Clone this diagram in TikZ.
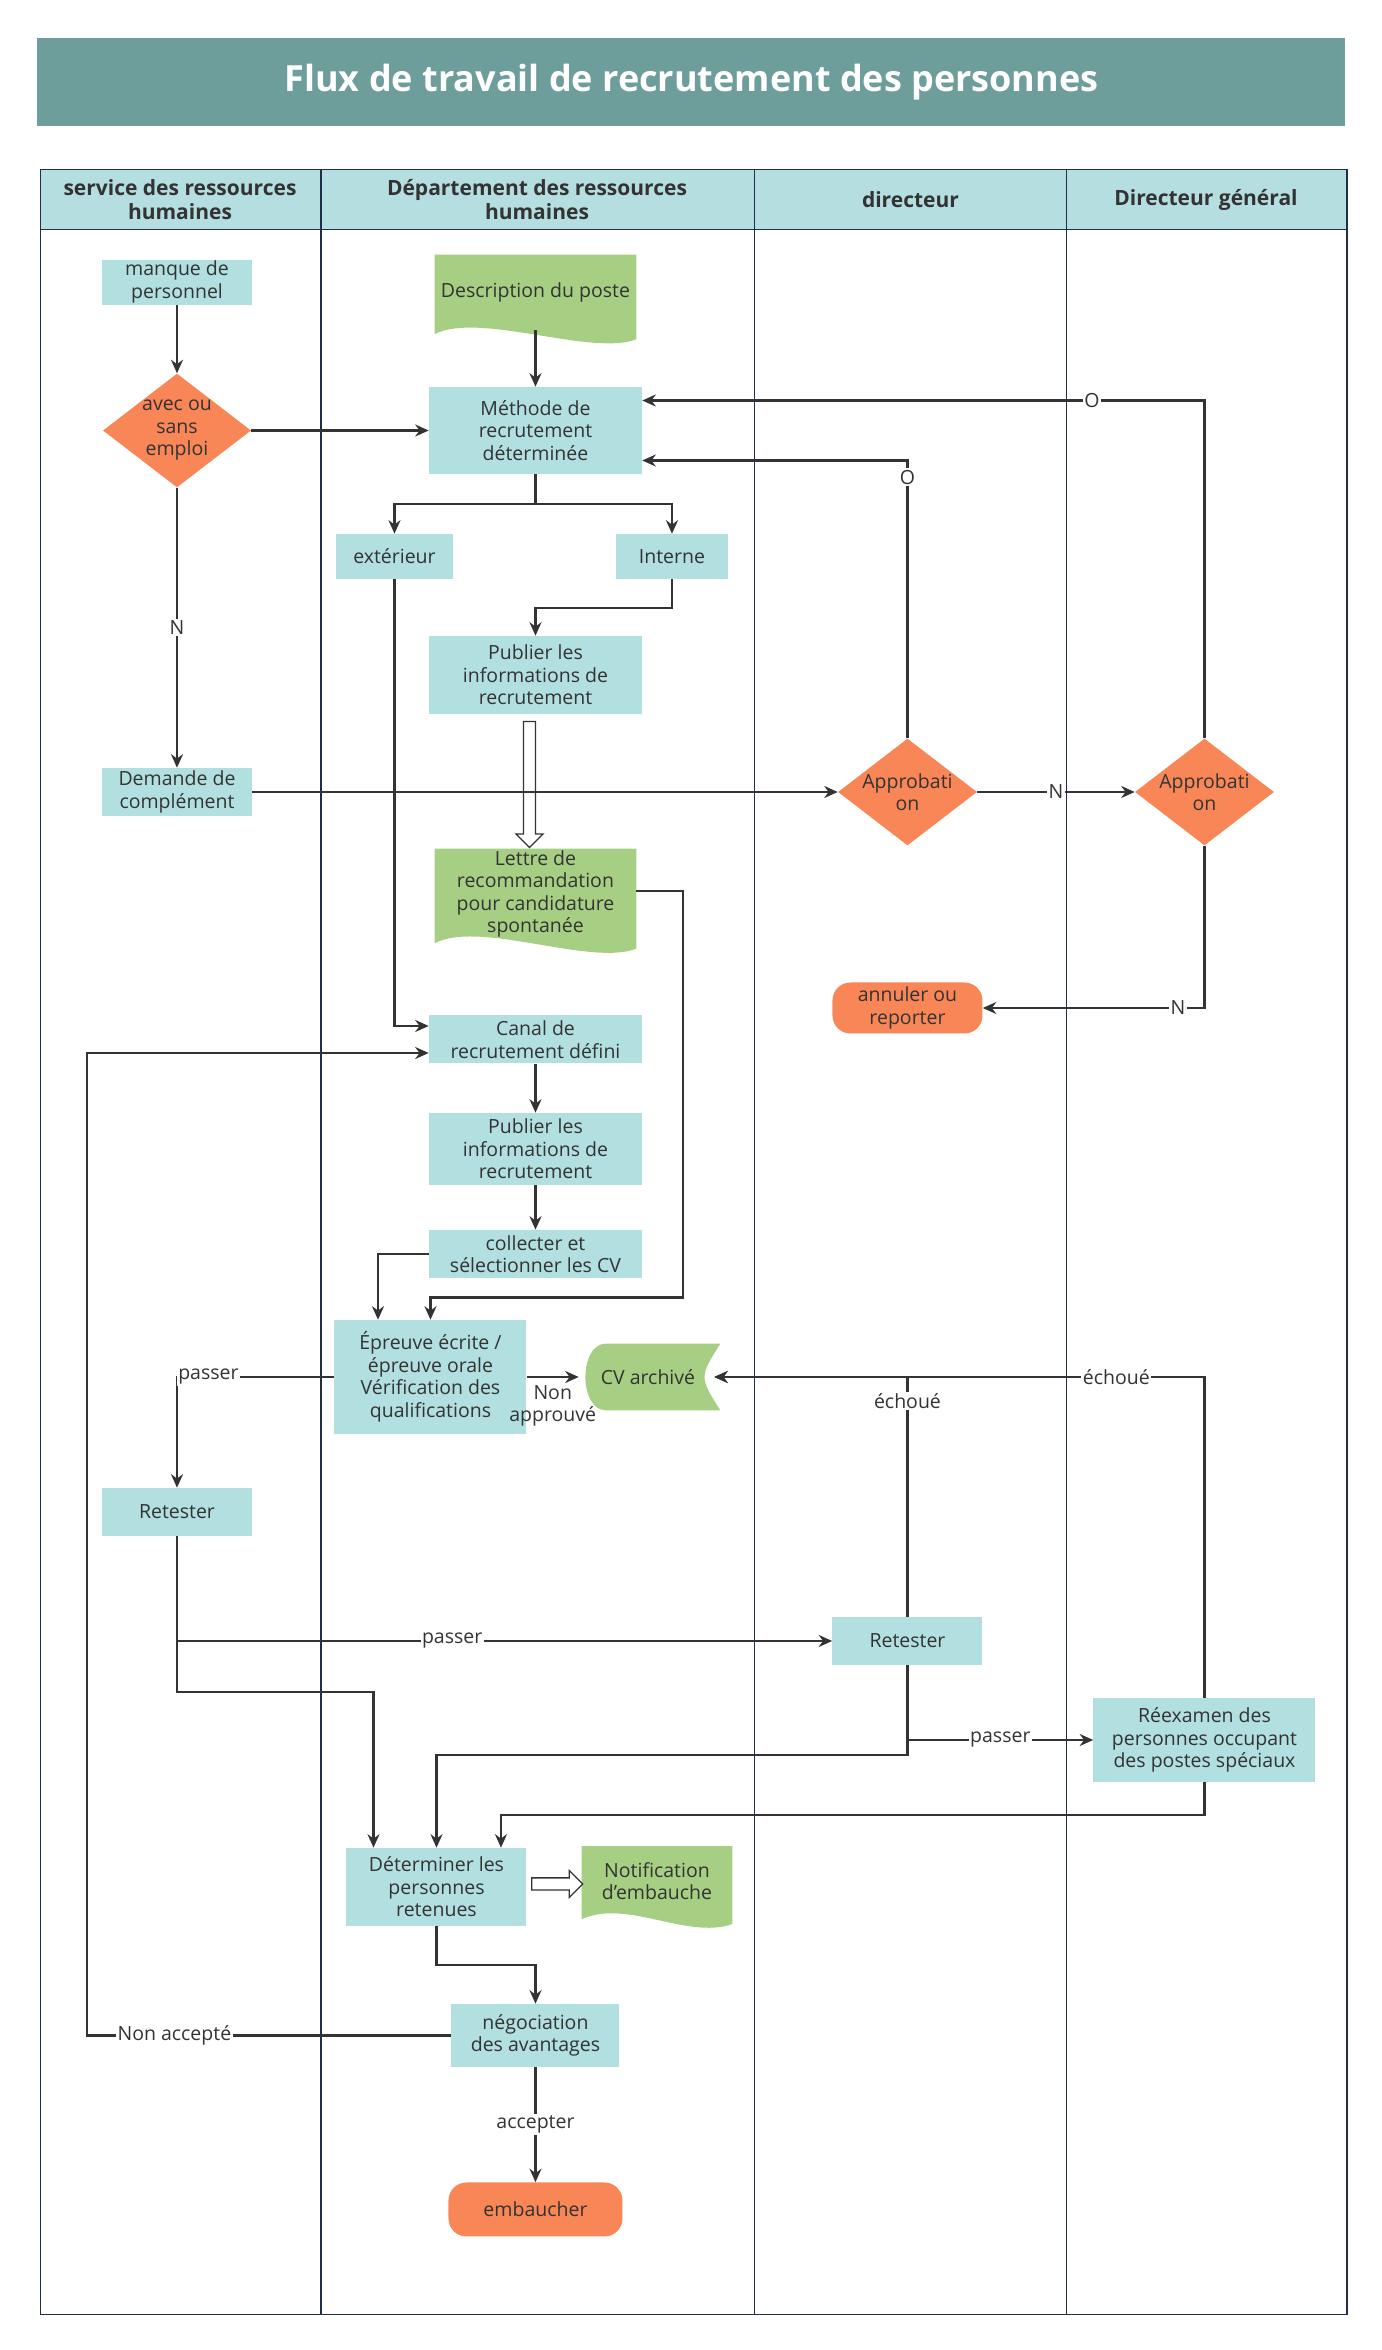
\documentclass[tikz,border=0pt]{standalone}
\usepackage{fontspec}
\setmainfont{Open Sans}
\usetikzlibrary{shapes.geometric,shapes.arrows,arrows.meta,backgrounds,calc}
\definecolor{titlebg}{HTML}{6E9E9B}
\definecolor{lanebg}{HTML}{B5DEE0}
\definecolor{procbg}{HTML}{B2DFE0}
\definecolor{decbg}{HTML}{F88656}
\definecolor{docbg}{HTML}{A7CF84}
\definecolor{linec}{HTML}{333333}
\definecolor{poolc}{HTML}{1F2F4A}

\begin{document}
\begin{tikzpicture}[x=1pt,y=-1pt,
  font=\fontsize{13}{15}\selectfont,
  every node/.style={text=linec,align=center,inner sep=1pt},
  proc/.style={rectangle,fill=procbg,minimum width=#1},
  dec/.style={diamond,fill=decbg,minimum width=88pt,minimum height=68pt,aspect=1.3,inner sep=0pt},
  term/.style={rectangle,rounded corners=12pt,fill=decbg,minimum width=#1,minimum height=34pt},
  doc/.style={rectangle,minimum width=134pt,minimum height=#1},
  flow/.style={draw=linec,line width=1.4pt,-{Stealth[length=9pt,width=8pt]}},
  lbl/.style={fill=white,inner sep=1pt},
  hollow/.style={single arrow,draw=linec,fill=white,line width=0.9pt,single arrow head extend=3pt,minimum height=#1,minimum width=18pt,inner sep=2pt}]

  \useasboundingbox (0,0) rectangle (921.3,1566.7);

  % title and swimlanes
  \node[fill=titlebg,minimum width=872pt,minimum height=59pt,text=white,font=\fontsize{24}{28}\bfseries\selectfont] (title) at (461,54.5) {Flux de travail de recrutement des personnes};
  \fill[lanebg] (27,113) rectangle (898,153);
  \draw[poolc,line width=1pt] (27,113) rectangle (898,1543);
  \draw[poolc,line width=0.8pt] (27,153) -- (898,153);
  \foreach \lx in {214,503,711}
    \draw[poolc,line width=1pt] (\lx,113) -- (\lx,1543);
  \begin{scope}[every node/.style={text=linec,align=center,font=\fontsize{14}{16}\bfseries\selectfont}]
    \node (laneA) at (120,133) {service des ressources\\humaines};
    \node (laneB) at (358,133) {Département des ressources\\humaines};
    \node (laneC) at (607,133) {directeur};
    \node (laneD) at (804,133) {Directeur général};
  \end{scope}

  % nodes
  \node[proc=100pt,minimum height=30pt] (manque) at (118,188) {manque de\\personnel};
  \node[dec] (emploi) at (118,287) {avec ou\\sans\\emploi};
  \node[proc=100pt,minimum height=32pt] (demande) at (118,528) {Demande de\\complément};
  \node[doc=50pt] (descr) at (357,195) {Description du poste};
  \node[proc=142pt,minimum height=58pt] (methode) at (357,287) {Méthode de\\recrutement\\déterminée};
  \node[proc=78pt,minimum height=30pt] (exter) at (263,371) {extérieur};
  \node[proc=75pt,minimum height=30pt] (interne) at (448,371) {Interne};
  \node[proc=142pt,minimum height=52pt] (publier) at (357,450) {Publier les\\informations de\\recrutement};
  \node[doc=52pt] (lettre) at (357,596) {Lettre de\\recommandation\\pour candidature\\spontanée};
  \node[proc=142pt,minimum height=32pt] (canal) at (357,693) {Canal de\\recrutement défini};
  \node[proc=142pt,minimum height=48pt] (publierb) at (357,766) {Publier les\\informations de\\recrutement};
  \node[proc=142pt,minimum height=32pt] (collect) at (357,836) {collecter et\\sélectionner les CV};
  \node[proc=128pt,minimum height=76pt] (epreuve) at (287,918) {Épreuve écrite /\\épreuve orale\\Vérification des\\qualifications};
  \node[minimum width=92pt,minimum height=44pt] (archive) at (432,918) {CV archivé};
  \node[proc=100pt,minimum height=32pt] (retestA) at (118,1008) {Retester};
  \node[dec] (approA) at (605,528) {Approbati\\on};
  \node[dec] (approB) at (803,528) {Approbati\\on};
  \node[term=100pt] (annuler) at (605,672) {annuler ou\\reporter};
  \node[proc=100pt,minimum height=32pt] (retestB) at (605,1094) {Retester};
  \node[proc=148pt,minimum height=56pt] (reexam) at (803,1160) {Réexamen des\\personnes occupant\\des postes spéciaux};
  \node[proc=120pt,minimum height=52pt] (determ) at (291,1258) {Déterminer les\\personnes\\retenues};
  \node[doc=46pt,minimum width=100pt] (notif) at (438,1254) {Notification\\d'embauche};
  \node[proc=112pt,minimum height=42pt] (nego) at (357,1357) {négociation\\des avantages};
  \node[term=116pt,minimum height=36pt] (embauche) at (357,1473) {embaucher};

  % document shapes behind their texts
  \begin{scope}[on background layer]
    \foreach \d/\h in {descr/50,lettre/52,notif/46}
      \fill[docbg] (\d.north west) -- (\d.north east) -- ([yshift=-0.12*\h]\d.south east)
        .. controls ([xshift=-30pt,yshift=-0.35*\h]\d.south east) and ([xshift=30pt,yshift=0.25*\h]\d.south west) .. ([yshift=-0.05*\h]\d.south west) -- cycle;
    \fill[docbg] ([xshift=18pt]archive.north west) -- ([xshift=2pt]archive.north east)
      .. controls ([xshift=-12pt]archive.east) .. ([xshift=2pt]archive.south east)
      -- ([xshift=18pt]archive.south west) .. controls (archive.south west) and (archive.north west) .. ([xshift=18pt]archive.north west) -- cycle;
  \end{scope}

  % connectors
  \draw[flow] (manque) -- (emploi);
  \draw[flow] (emploi) -- (methode);
  \draw[flow] (emploi) -- node[lbl,pos=0.5]{N} (demande);
  \draw[flow] (descr) -- (methode);
  \draw[flow] (methode.south) -- ++(0,20) -| (exter.north);
  \draw[flow] (methode.south) -- ++(0,20) -| (interne.north);
  \draw[flow] (interne.south) -- ++(0,19) -| (publier.north);
  \node[hollow=84pt,rotate=-90] (pubarrow) at ($(publier.south)!0.5!(lettre.north)+(-4,0)$) {};
  \draw[flow] (exter.south) |- ([yshift=9pt]canal.west);
  \draw[flow] (demande.east) -- (approA.west);
  \draw[flow] (approA.north) |- node[lbl,pos=0.47]{O} ([yshift=-20pt]methode.east);
  \draw[flow] (approA.east) -- node[lbl]{N} (approB.west);
  \draw[flow] (approB.north) |- node[lbl,pos=0.6]{O} ([yshift=20pt]methode.east);
  \draw[flow] (approB.south) |- node[lbl,pos=0.56]{N} (annuler.east);
  \draw[flow] ([yshift=2pt]lettre.east) -| ++(31,0) |- (287,865) -- (epreuve.north);
  \draw[flow] (canal) -- (publierb);
  \draw[flow] (publierb) -- (collect);
  \draw[flow] (collect.west) -| ([xshift=-35pt]epreuve.north);
  \draw[flow] (epreuve.west) -| node[lbl,pos=0.4]{passer} (retestA.north);
  \draw[flow] (epreuve.east) -- node[below=4pt,pos=0.5]{Non\\approuvé} (archive.west);
  \draw[flow] (retestB.north) |- node[lbl,pos=0.45]{échoué} ([xshift=-2pt]archive.east);
  \draw[flow] (reexam.north) |- node[lbl,pos=0.59]{échoué} ([xshift=-2pt]archive.east);
  \draw[flow] (retestA.south) |- node[lbl,pos=0.71]{passer} (retestB.west);
  \draw[flow] (retestA.south) |- (249,1128) -- ([xshift=-42pt]determ.north);
  \draw[flow] (retestB.south) |- (291,1170) -- (determ.north);
  \draw[flow] (605,1160) -- node[lbl]{passer} (reexam.west);
  \draw[flow] (reexam.south) |- (334,1210) -- ([xshift=43pt]determ.north);
  \node[hollow=34pt] (notarrow) at ($(determ.east)!0.5!(notif.west)+(0,0)$) {};
  \draw[flow] (determ.south) |- (357,1310) -- (nego.north);
  \draw[flow] (nego.west) -| node[lbl,pos=0.38]{Non accepté} (58,702) -- ([yshift=-9pt]canal.west);
  \draw[flow] (nego) -- node[lbl]{accepter} (embauche);
\end{tikzpicture}
\end{document}
